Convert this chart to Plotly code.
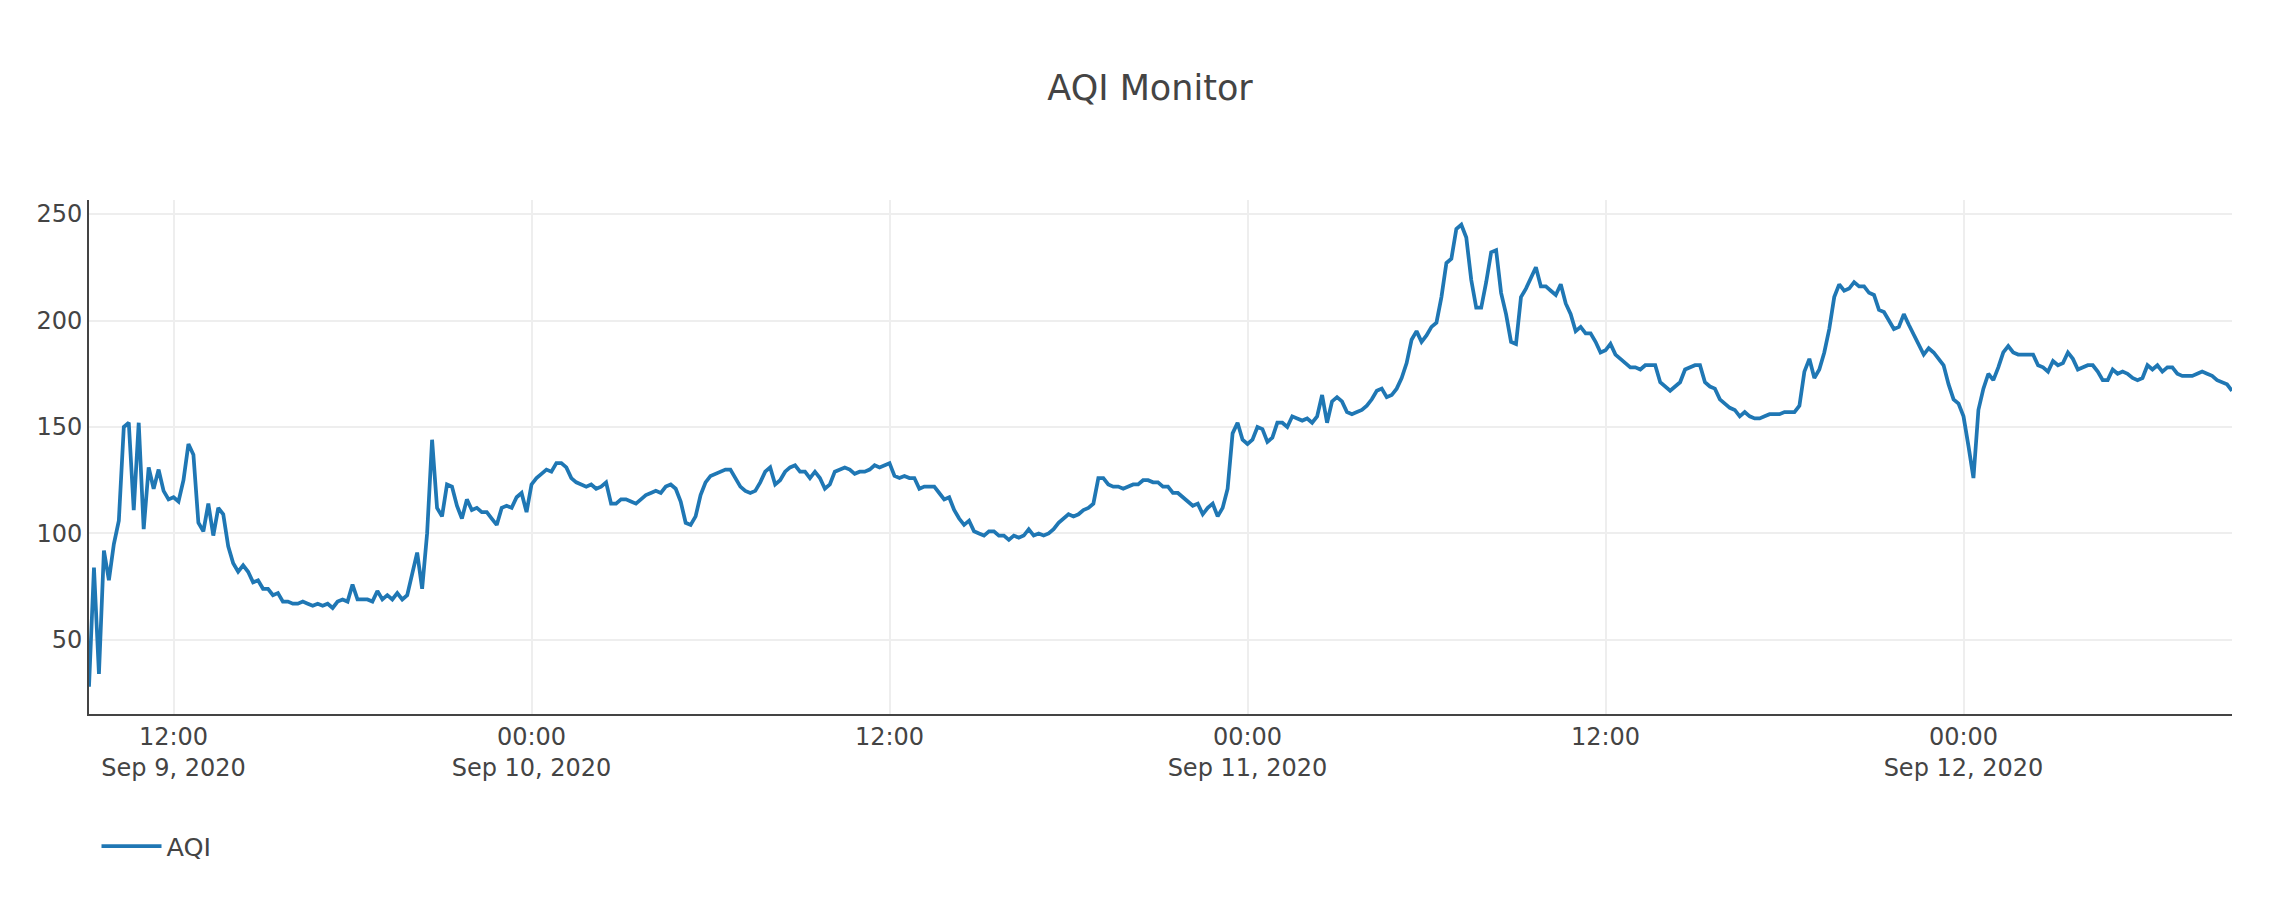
#!/usr/bin/env python3
"""AQI readings, Sep 9 - Sep 12 2020, as a Plotly line chart."""

import pandas as pd
import plotly.graph_objects as go

# 10-minute readings, first one at 09:10 on Sep 9
START = "2020-09-09 09:10"
STEP = "10min"

aqi_sep09 = [
    28, 84, 34, 92, 78, 95, 106, 150, 152, 111, 152, 102,
    131, 121, 130, 120, 116, 117, 115, 125, 142, 137, 105, 101,
    114, 99, 112, 109, 94, 86, 82, 85, 82, 77, 78, 74,
    74, 71, 72, 68, 68, 67, 67, 68, 67, 66, 67, 66,
    67, 65, 68, 69, 68, 76, 69, 69, 69, 68, 73, 69,
    71, 69, 72, 69, 71, 81, 91, 74, 100, 144, 112, 108,
    123, 122, 113, 107, 116, 111, 112, 110, 110, 107, 104, 112,
    113, 112, 117, 119, 110,
]
aqi_sep10 = [
    123, 126, 128, 130, 129, 133, 133,
    131, 126, 124, 123, 122, 123, 121, 122, 124, 114, 114, 116,
    116, 115, 114, 116, 118, 119, 120, 119, 122, 123, 121, 115,
    105, 104, 108, 118, 124, 127, 128, 129, 130, 130, 126, 122,
    120, 119, 120, 124, 129, 131, 123, 125, 129, 131, 132, 129,
    129, 126, 129, 126, 121, 123, 129, 130, 131, 130, 128, 129,
    129, 130, 132, 131, 132, 133, 127, 126, 127, 126, 126, 121,
    122, 122, 122, 119, 116, 117, 111, 107, 104, 106, 101, 100,
    99, 101, 101, 99, 99, 97, 99, 98, 99, 102, 99, 100,
    99, 100, 102, 105, 107, 109, 108, 109, 111, 112, 114, 126,
    126, 123, 122, 122, 121, 122, 123, 123, 125, 125, 124, 124,
    122, 122, 119, 119, 117, 115, 113, 114, 109, 112, 114, 108,
    112, 121, 147, 152, 144,
]
aqi_sep11 = [
    142, 144, 150, 149, 143, 145, 152,
    152, 150, 155, 154, 153, 154, 152, 155, 165, 152, 162, 164,
    162, 157, 156, 157, 158, 160, 163, 167, 168, 164, 165, 168,
    173, 180, 191, 195, 190, 193, 197, 199, 211, 227, 229, 243,
    245, 239, 219, 206, 206, 218, 232, 233, 213, 203, 190, 189,
    211, 215, 220, 225, 216, 216, 214, 212, 217, 208, 203, 195,
    197, 194, 194, 190, 185, 186, 189, 184, 182, 180, 178, 178,
    177, 179, 179, 179, 171, 169, 167, 169, 171, 177, 178, 179,
    179, 171, 169, 168, 163, 161, 159, 158, 155, 157, 155, 154,
    154, 155, 156, 156, 156, 157, 157, 157, 160, 176, 182, 173,
    177, 185, 196, 211, 217, 214, 215, 218, 216, 216, 213, 212,
    205, 204, 200, 196, 197, 203, 198, 193, 189, 184, 187, 185,
    182, 179, 170, 163, 161,
]
aqi_sep12 = [
    155, 141, 126, 158, 168, 175, 172,
    178, 185, 188, 185, 184, 184, 184, 184, 179, 178, 176, 181,
    179, 180, 185, 182, 177, 178, 179, 179, 176, 172, 172, 177,
    175, 176, 175, 173, 172, 173, 179, 177, 179, 176, 178, 178,
    175, 174, 174, 174, 175, 176, 175, 174, 172, 171, 170, 167,
]

Y_TICKS = [50, 100, 150, 200, 250]
Y_RANGE = [15.2, 256.6]

FONT = "DejaVu Sans"
TEXT = "#444"

# the page body keeps its default 8px margin, so the figure is 8px smaller
W, H = 2284, 892


def main():
    aqi = aqi_sep09 + aqi_sep10 + aqi_sep11 + aqi_sep12
    times = pd.date_range(START, periods=len(aqi), freq=STEP)

    fig = go.Figure()
    fig.add_trace(go.Scatter(
        x=times, y=aqi, mode="lines", name="AQI",
        line=dict(color="#1f77b4", width=3.75),
    ))

    axis = dict(
        showgrid=True, gridcolor="#eee", gridwidth=1.5,
        showline=True, linecolor=TEXT, linewidth=2,
        zeroline=False, ticks="",
        tickfont=dict(family=FONT, size=24, color=TEXT),
    )
    fig.update_layout(
        width=W, height=H,
        template="none",
        paper_bgcolor="white", plot_bgcolor="white",
        margin=dict(l=81, r=60, t=192, b=186),
        title=dict(
            text="AQI Monitor", x=0.5, xanchor="center",
            yref="container", y=1 - 80 / H, yanchor="middle",
            font=dict(family=FONT, size=35, color=TEXT),
        ),
        xaxis=dict(axis, dtick=12 * 3600 * 1000, tick0="2020-09-09 00:00"),
        yaxis=dict(axis, range=Y_RANGE, tickvals=Y_TICKS),
        showlegend=True,
        legend=dict(
            orientation="h", x=0.0035, xanchor="left", y=-0.212, yanchor="top",
            font=dict(family=FONT, size=25.5, color=TEXT),
            itemwidth=60,
        ),
    )

    fig.write_html("out.html")


if __name__ == "__main__":
    main()
